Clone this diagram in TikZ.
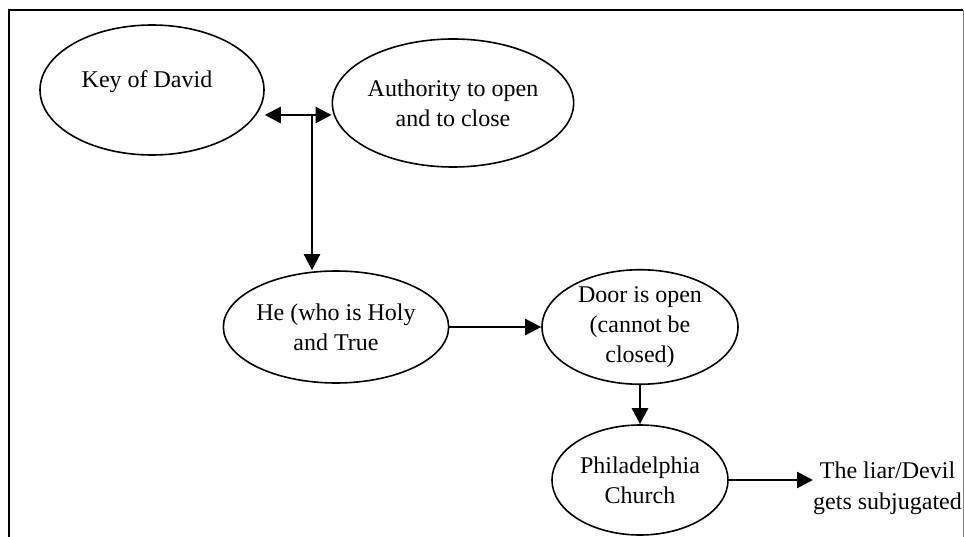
\documentclass[tikz,border=0pt]{standalone}
\usepackage{fontspec}
\setmainfont{Liberation Serif}
\usepackage{tikz}
\usetikzlibrary{shapes.geometric}
\usetikzlibrary{arrows.meta}
\tikzset{>={Triangle[width=16pt,length=16pt]}}

\begin{document}
\begin{tikzpicture}[
    x = 1pt, y = -1pt,
    ell/.style = {draw, ellipse, line width=1.6pt, inner sep=0pt,
        align=center, font=\fontsize{24}{30}\selectfont},
    txt/.style = {align=center, inner sep=0pt, font=\fontsize{24}{31}\selectfont},
    conn/.style = {->, line width=2.4pt}
  ]
  \useasboundingbox (0,0) rectangle (964,537);
  % frame
  \draw[line width=1.8pt] (9,537) -- (9,10) -- (963,10);
  \draw[gray, line width=0.9pt] (963,10) -- (963,537);

  \node[ell, minimum width=224pt, minimum height=130pt] (david) at (152,90) {};
  \node[txt] (davidtxt) at (147,82) {Key of David};
  \node[ell, minimum width=200pt, minimum height=128pt] (auth) at (453,103)
    {Authority to open\\and to close};
  \node[ell, minimum width=146pt, minimum height=112pt] (he) at (336,327)
    {He (who is Holy\\and True};
  \node[ell, minimum width=196pt, minimum height=112pt] (door) at (640,327)
    {Door is open\\(cannot be\\closed)};
  \node[ell, minimum width=176pt, minimum height=110pt] (phil) at (640,480)
    {Philadelphia\\Church};
  \node[txt, anchor=west] (liar) at (813,488) {The liar/Devil\\gets subjugated};

  \coordinate (junc) at (312,115);
  \draw[conn] (junc) -- (junc -| david.east);
  \draw[conn] (junc) -- (junc -| auth.west);
  \draw[conn] (junc) -- (junc |- he.north);
  \draw[conn] (he.east) -- (door.west);
  \draw[conn] (door.south) -- (phil.north);
  \draw[conn] (phil.east) -- (phil.east -| liar.west);
\end{tikzpicture}
\end{document}
